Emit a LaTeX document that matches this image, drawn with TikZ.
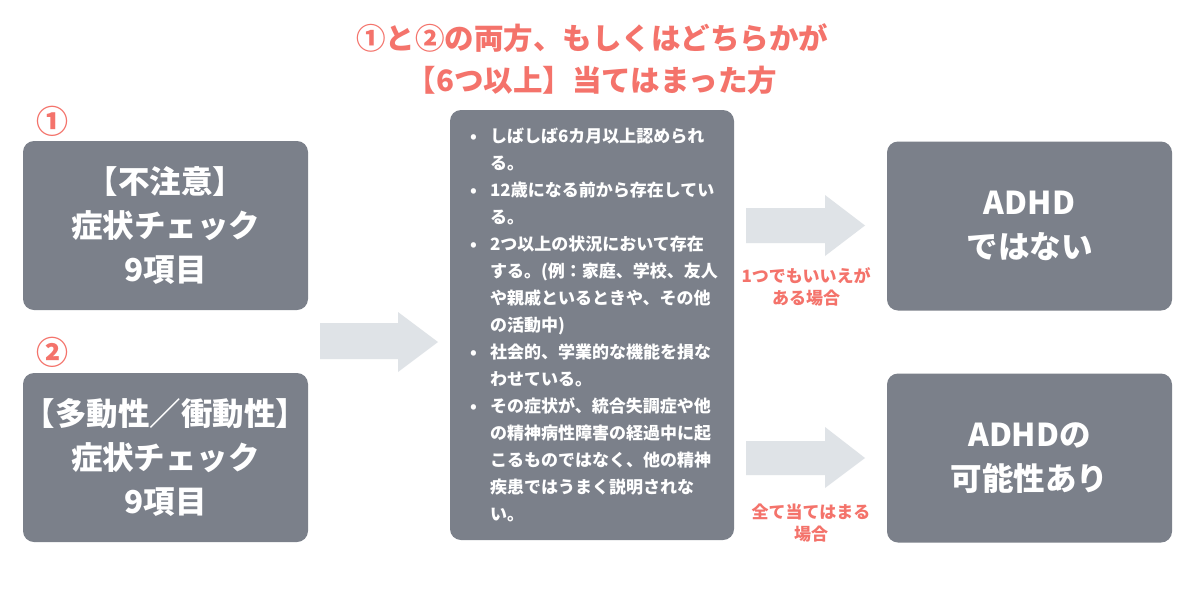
\documentclass[tikz,border=0pt]{standalone}
\usepackage{fontspec}
\newfontfamily\jp{Noto Sans CJK JP}
\definecolor{boxgray}{HTML}{7B808A}
\definecolor{arrowc}{HTML}{DFE3E7}
\definecolor{salmon}{HTML}{F4736B}
\newcommand{\bitem}{\makebox[24pt][l]{\hspace{4pt}•}}
\newcommand{\bindent}{\hspace*{24pt}}
\begin{document}
\begin{tikzpicture}[x=1pt,y=-1pt,
  box/.style={fill=boxgray, rounded corners=11pt, minimum width=285pt, minimum height=169pt,
    inner sep=0pt, text=white, align=center, font=\jp\bfseries\fontsize{31.5}{44}\selectfont},
  critbox/.style={box, minimum width=284pt, minimum height=430pt, align=left,
    font=\jp\bfseries\fontsize{17}{27}\selectfont},
  lbl/.style={text=salmon, align=center, inner sep=0pt, font=\jp\bfseries\fontsize{17}{22}\selectfont},
  ttl/.style={text=salmon, align=center, inner sep=0pt, font=\jp\bfseries\fontsize{29.5}{42}\selectfont},
  num/.style={text=salmon, inner sep=0pt, font=\jp\bfseries\fontsize{32}{36}\selectfont},
  blockarrow/.style={fill=arrowc}
]
\useasboundingbox[fill=white] (0,0) rectangle (1200,600);

\node[ttl] (title) at (592,59) {①と②の両方、もしくはどちらかが\\【6つ以上】当てはまった方};

\node[num] (n1) at (52,121) {①};
\node[num] (n2) at (52,352) {②};

\node[box] (inatt) at (165.5,225.5) {【不注意】\\症状チェック\\9項目};
\node[box] (hyper) at (165.5,457.5) {【多動性／衝動性】\\症状チェック\\9項目};

\node[critbox] (crit) at (592,325) {%
\bitem しばしば6カ月以上認められ\\
\bindent る。\\
\bitem 12歳になる前から存在してい\\
\bindent る。\\
\bitem 2つ以上の状況において存在\\
\bindent する。(例：家庭、学校、友人\\
\bindent や親戚といるときや、その他\\
\bindent の活動中)\\
\bitem 社会的、学業的な機能を損な\\
\bindent わせている。\\
\bitem その症状が、統合失調症や他\\
\bindent の精神病性障害の経過中に起\\
\bindent こるものではなく、他の精神\\
\bindent 疾患ではうまく説明されな\\
\bindent い。};

\node[box] (notadhd) at (1029.5,226) {ADHD\\ではない};
\node[box] (adhd) at (1029.5,458) {ADHDの\\可能性あり};

% block arrows
\fill[blockarrow] (320,323) -- (398,323) -- (398,312) -- (438,342) -- (398,372) -- (398,359) -- (320,359) -- cycle;
\fill[blockarrow] (746,208) -- (825,208) -- (825,195) -- (865,225.5) -- (825,256) -- (825,243) -- (746,243) -- cycle;
\fill[blockarrow] (746,441) -- (825,441) -- (825,427) -- (865,458) -- (825,488) -- (825,475) -- (746,475) -- cycle;

\node[lbl] (lab1) at (806,287) {1つでもいいえが\\ある場合};
\node[lbl] (lab2) at (811,523) {全て当てはまる\\場合};
\end{tikzpicture}
\end{document}
